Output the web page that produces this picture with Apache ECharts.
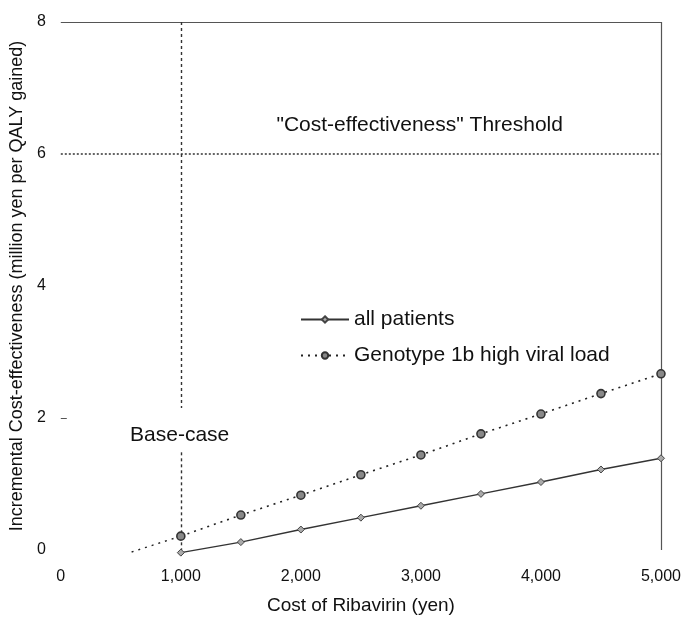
<!DOCTYPE html>
<html>
<head>
<meta charset="utf-8">
<script src="https://cdn.jsdelivr.net/npm/echarts@6/dist/echarts.min.js"></script>
<style>html,body{margin:0;padding:0;background:#fff}#c{width:684px;height:620px}</style>
</head>
<body>
<div id="c"></div>
<script>
const costs = [1000, 1500, 2000, 2500, 3000, 3500, 4000, 4500, 5000];
const allPatients = [-0.04, 0.12, 0.31, 0.49, 0.67, 0.85, 1.03, 1.22, 1.39];
const genotype1b = [0.21, 0.53, 0.83, 1.14, 1.44, 1.76, 2.06, 2.37, 2.67];
const genotypeExtX = [590, 1000];
const genotypeExtY = [-0.03, 0.21];
const xTicks = [0, 1000, 2000, 3000, 4000, 5000];
const yTicks = [0, 2, 4, 6, 8];
const threshold = 6;
const baseCase = 1000;
const seriesNames = ['all patients', 'Genotype 1b high viral load'];

const font = '"Liberation Sans", Arial, sans-serif';
const txt = '#111';

const chart = echarts.init(document.getElementById('c'), null, {renderer: 'canvas'});
chart.setOption({
  animation: false,
  backgroundColor: '#fff',
  textStyle: {fontFamily: font},
  grid: {left: 58, right: 23, top: 22, bottom: 70, containLabel: false},
  legend: {
    orient: 'vertical', left: 295, top: 304,
    itemWidth: 48, itemHeight: 8, itemGap: 15,
    data: seriesNames,
    textStyle: {fontSize: 21, color: txt, fontFamily: font}
  },
  xAxis: {
    type: 'value', min: xTicks[0], max: xTicks[xTicks.length - 1], interval: 1000,
    name: 'Cost of Ribavirin (yen)', nameLocation: 'middle', nameGap: 46,
    nameTextStyle: {fontSize: 19, color: txt, fontFamily: font},
    axisLine: {show: false}, axisTick: {show: false}, splitLine: {show: false},
    axisLabel: {fontSize: 16, color: txt, margin: 19, fontFamily: font,
      formatter: v => v.toLocaleString('en-US')}
  },
  yAxis: {
    type: 'value', min: yTicks[0], max: yTicks[yTicks.length - 1], interval: 2,
    name: 'Incremental Cost-effectiveness (million yen per QALY gained)',
    nameLocation: 'middle', nameGap: 31,
    nameTextStyle: {fontSize: 18, color: txt, fontFamily: font},
    axisLine: {show: false}, axisTick: {show: false}, splitLine: {show: false},
    axisLabel: {fontSize: 16, color: txt, margin: 15, fontFamily: font}
  },
  series: [
    {
      name: seriesNames[0], type: 'line', clip: false,
      data: costs.map((c, i) => [c, allPatients[i]]),
      symbol: 'diamond', symbolSize: 7,
      lineStyle: {color: '#333', width: 1.4, type: 'solid'},
      itemStyle: {color: '#aaa', borderColor: '#444', borderWidth: 1},
      z: 5
    },
    {
      name: seriesNames[1], type: 'line', clip: false,
      data: costs.map((c, i) => [c, genotype1b[i]]),
      symbol: 'circle', symbolSize: 8,
      lineStyle: {color: '#222', width: 1.6, type: [2, 5]},
      itemStyle: {color: '#888', borderColor: '#333', borderWidth: 1.6},
      z: 5
    },
    {
      name: 'ext', type: 'line', clip: false, silent: true,
      data: genotypeExtX.map((x, i) => [x, genotypeExtY[i]]),
      symbol: 'none',
      lineStyle: {color: '#222', width: 1.4, type: [2, 5]},
      markLine: {
        silent: true, symbol: 'none', label: {show: false},
        data: [
          [{coord: [xTicks[0], yTicks[4]], lineStyle: {type: 'solid', color: '#555', width: 1.2}},
           {coord: [xTicks[5], yTicks[4]]}],
          [{coord: [xTicks[5], yTicks[4]], lineStyle: {type: 'solid', color: '#555', width: 1.2}},
           {coord: [xTicks[5], yTicks[0]]}],
          [{coord: [xTicks[0], threshold], lineStyle: {type: [2, 2], color: '#333', width: 1.6}},
           {coord: [xTicks[5], threshold]}],
          [{coord: [baseCase, yTicks[4]], lineStyle: {type: [3, 3], color: '#333', width: 1.4}},
           {coord: [baseCase, 2.15]}],
          [{coord: [baseCase, 1.48], lineStyle: {type: [3, 3], color: '#333', width: 1.4}},
           {coord: [baseCase, yTicks[0]]}],
          [{coord: [xTicks[0], yTicks[1]], lineStyle: {type: 'solid', color: '#555', width: 1}},
           {coord: [50, yTicks[1]]}]
        ]
      }
    },
    {
      name: 'annotations', type: 'scatter', silent: true,
      symbolSize: 0,
      itemStyle: {opacity: 1},
      data: [
        {value: [2990, 6.44], label: {formatter: '"Cost-effectiveness" Threshold'}},
        {value: [990, 1.74], label: {formatter: 'Base-case'}}
      ],
      label: {show: true, position: 'inside', fontSize: 21, color: txt, opacity: 1, fontFamily: font}
    }
  ]
});
</script>
</body>
</html>
